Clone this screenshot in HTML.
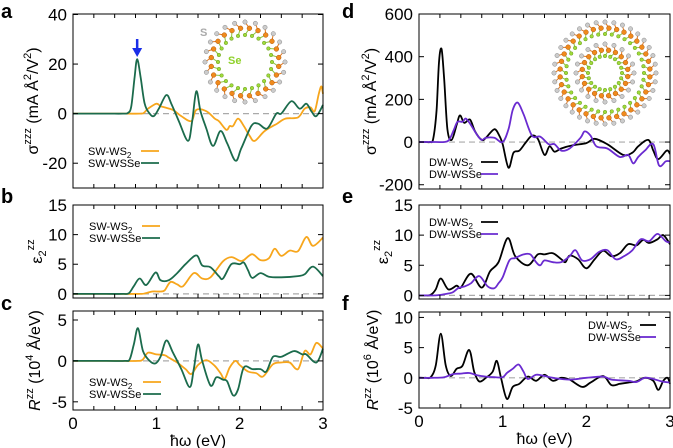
<!DOCTYPE html>
<html><head><meta charset="utf-8">
<style>
body{margin:0;background:#fff;}
svg{display:block;font-family:"Liberation Sans",sans-serif;}
</style></head>
<body>
<svg id="fig" width="673" height="448" viewBox="0 0 673 448" xmlns="http://www.w3.org/2000/svg"></svg>
<script>
// ---- data (x in eV, y in panel units) ----
const aOrangeX=[0,0.5,0.8,0.85,0.9,1.0,1.05,1.1,1.2,1.3,1.42,1.48,1.6,1.7,1.75,1.84,1.88,1.92,1.98,2.05,2.12,2.18,2.3,2.45,2.55,2.7,2.78,2.85,2.9,2.95,2.98,3];
const aOrangeY=[0,0,0,0.3,2,4,3,2.5,1.5,-1,-3,1.5,1,-2,-3,-6.5,-5,-5,-2,-5,-9,-11,-7,-4,-2,-1.5,2,2.5,1,8,11,8];
const aGreenX=[0,0.4,0.6,0.66,0.7,0.74,0.77,0.81,0.86,0.92,0.97,1.03,1.12,1.18,1.27,1.38,1.43,1.48,1.53,1.6,1.68,1.77,1.85,1.95,2.02,2.14,2.22,2.33,2.44,2.5,2.62,2.72,2.8,2.86,2.92,3];
const aGreenY=[0,0,0,0.3,3,15,22,15,4,0,-1,2,7.5,4,-3,-11,-3,9,1,-6,-13,-7,-12,-19,-14,-5,-4,-6,0,0,5,2,4,1,-1,3.5];
const bOrangeX=[0,0.5,0.8,0.87,0.95,1.05,1.1,1.17,1.25,1.32,1.45,1.55,1.65,1.8,1.9,2.0,2.05,2.15,2.25,2.35,2.42,2.5,2.6,2.7,2.8,2.88,3];
const bOrangeY=[0,0,0,0.1,0.4,0.4,0.6,2.0,1.6,1.3,3.5,2.6,2.8,5.5,6.2,5.6,5.7,6.7,5.7,6.0,7.6,6.4,7.3,7.2,9.6,8.1,9.5];
const bGreenX=[0,0.4,0.6,0.67,0.73,0.8,0.88,0.99,1.05,1.15,1.25,1.35,1.48,1.55,1.65,1.75,1.8,1.9,2.0,2.05,2.1,2.15,2.25,2.35,2.5,2.7,2.78,2.88,3];
const bGreenY=[0,0,0,0.1,1.3,2.6,1.5,3.6,2.3,2.3,3.5,5,6.5,4.8,4.5,3,2.6,5,5,5.3,4,2.7,3.5,2.9,2.8,3,3.3,4.6,3.0];
const cOrangeX=[0,0.5,0.78,0.84,0.9,1.0,1.1,1.15,1.25,1.35,1.42,1.5,1.6,1.7,1.77,1.82,1.88,1.95,2.0,2.1,2.2,2.28,2.4,2.5,2.6,2.7,2.78,2.85,2.92,3];
const cOrangeY=[0,0,0,0.2,1,0.8,0.7,0.4,-0.2,-1,-1.6,-0.5,0.1,-0.6,-1.5,-2.2,-0.8,0,-0.5,-1.3,-1.5,-1.9,-0.4,-0.2,-0.2,-1,1.2,0.8,2.2,1.5];
const cGreenX=[0,0.4,0.62,0.68,0.73,0.78,0.84,0.92,0.99,1.05,1.12,1.2,1.3,1.4,1.45,1.5,1.55,1.65,1.72,1.8,1.85,1.92,1.98,2.05,2.15,2.25,2.32,2.4,2.5,2.65,2.75,2.8,2.92,3];
const cGreenY=[0,0,0,0.2,2,4,1.2,0,-0.3,0.5,2.5,1,-1,-3.2,-1,2,0,-3,-2,-2.3,-2.5,-4.2,-3.5,-0.8,-1,-1,-1.3,0.5,0.5,1.2,0.8,0.8,-0.2,1.5];
const dBlackX=[0,0.08,0.13,0.17,0.21,0.24,0.27,0.3,0.34,0.39,0.45,0.49,0.54,0.61,0.67,0.75,0.8,0.9,0.96,1.0,1.07,1.13,1.2,1.28,1.35,1.42,1.5,1.56,1.62,1.7,1.84,2.0,2.1,2.25,2.44,2.55,2.62,2.74,2.8,2.86,2.96,3];
const dBlackY=[0,0,0,15,150,380,435,300,60,10,80,125,90,105,50,10,20,60,30,-10,-120,-50,-40,0,30,15,-60,-20,-45,-30,-15,-5,15,-10,-60,-50,-20,10,-40,-80,-40,-55];
const dPurpleX=[0,0.2,0.3,0.36,0.42,0.46,0.52,0.56,0.62,0.7,0.75,0.8,0.9,1.0,1.07,1.12,1.18,1.25,1.35,1.45,1.55,1.62,1.7,1.8,1.93,1.98,2.05,2.12,2.25,2.4,2.5,2.56,2.62,2.7,2.8,2.87,2.95,3];
const dPurpleY=[0,0,0,10,60,95,95,110,80,30,10,20,20,0,60,150,185,130,30,25,-10,-10,-40,-30,20,50,30,-20,-30,-70,-60,-100,-70,-40,-10,-110,-90,-90];
const eBlackX=[0,0.08,0.14,0.2,0.26,0.35,0.45,0.5,0.62,0.75,0.85,0.95,1.06,1.15,1.3,1.42,1.5,1.6,1.7,1.75,1.8,1.9,2.0,2.1,2.2,2.3,2.4,2.5,2.6,2.68,2.75,2.85,2.92,3];
const eBlackY=[0,0,0.1,1,2.8,1,1.6,1.3,3.6,1.3,4,5.5,9.5,6.5,5.0,6.8,6.8,7,6,5.5,6.6,6,4.5,6,7.4,6.5,7,8.5,8.3,9.2,8.7,9.3,10,8.5];
const ePurpleX=[0,0.1,0.2,0.3,0.4,0.47,0.55,0.62,0.72,0.82,0.9,0.95,1.0,1.08,1.15,1.25,1.33,1.4,1.45,1.5,1.6,1.7,1.8,1.87,1.95,2.05,2.15,2.25,2.35,2.45,2.55,2.65,2.75,2.85,2.95,3];
const ePurpleY=[0,0,0,0.2,0.5,1.2,1.5,2,3.2,1.5,1.2,2,3,5.8,6.2,6.8,6.8,5.5,5,5.8,5.5,5.5,6.5,7.5,5.8,6,7.2,7.5,6,6.5,7.5,9.3,9,10.2,9,8.8];
const fBlackX=[0,0.08,0.14,0.2,0.26,0.32,0.38,0.45,0.52,0.6,0.66,0.72,0.8,0.88,0.93,0.98,1.05,1.12,1.2,1.3,1.4,1.5,1.6,1.7,1.8,1.95,2.05,2.2,2.3,2.4,2.5,2.6,2.7,2.8,2.86,2.92,2.97,3];
const fBlackY=[0,0,0.1,2,7.3,2,0.3,1.5,2,4.6,1,-0.6,0,1,2.8,0,-3.5,-1.5,-1,0.2,-0.5,0.5,-0.5,0,-0.3,-1.5,-0.8,0.3,-1.2,-1,-0.8,-0.6,0,-0.5,-2,-0.5,0,-1];
const fPurpleX=[0,0.15,0.3,0.4,0.5,0.6,0.7,0.8,0.9,1.0,1.05,1.12,1.19,1.25,1.3,1.4,1.5,1.6,1.8,2.0,2.2,2.3,2.5,2.6,2.7,2.8,2.9,3];
const fPurpleY=[0,0,0.1,0.6,0.7,0.8,0.4,0.2,0.1,0.1,0.8,1.5,2.2,1,-0.2,0.5,0.3,0,-0.3,0,0.2,-0.3,-0.5,-0.7,0,-0.2,-0.6,-0.8];
const xTickLabels=["0","1","2","3"];
const aTicks=[40,20,0,-20], bTicks=[15,10,5,0], cTicks=[5,0,-5];
const dTicks=[600,400,200,0,-200], eTicks=[15,10,5,0], fTicks=[10,5,0,-5];

const NS="http://www.w3.org/2000/svg";
const svg=document.getElementById('fig');
function mk(tag,attrs,parent){const e=document.createElementNS(NS,tag);for(const k in attrs)e.setAttribute(k,attrs[k]);(parent||svg).appendChild(e);return e;}
function txt(s,x,y,size,anchor,parent){const t=mk('text',{x:x,y:y,'font-size':size,'text-anchor':anchor||'start',fill:'#000'},parent);t.textContent=s;return t;}

function panel(p){
  const g=mk('g',{});
  
  
  const X=v=>p.x0+(v-0)/3*(p.x1-p.x0);
  const Y=v=>p.yb+(v-p.ymin)/(p.ymax-p.ymin)*(p.yt-p.yb);
  const z=mk('line',{x1:p.x0,x2:p.x1,y1:Y(0),y2:Y(0),stroke:'#aaa','stroke-width':1.2,'stroke-dasharray':'6,4'},g);
  
  
  p.series.forEach(s=>{
    const pts=s.xs.map((v,i)=>[X(v),Y(s.ys[i])]);
    let d='M'+pts[0][0].toFixed(1)+','+pts[0][1].toFixed(1);
    for(let i=0;i<pts.length-1;i++){
      const p0=pts[Math.max(0,i-1)],p1=pts[i],p2=pts[i+1],p3=pts[Math.min(pts.length-1,i+2)];
      const c1=[p1[0]+(p2[0]-p0[0])/6,p1[1]+(p2[1]-p0[1])/6];
      const c2=[p2[0]-(p3[0]-p1[0])/6,p2[1]-(p3[1]-p1[1])/6];
      d+=' C'+c1[0].toFixed(1)+','+c1[1].toFixed(1)+' '+c2[0].toFixed(1)+','+c2[1].toFixed(1)+' '+p2[0].toFixed(1)+','+p2[1].toFixed(1);
    }
    const path=mk('path',{d:d,fill:'none',stroke:s.color,'stroke-width':1.8,'stroke-linejoin':'round'},g);
    
    
  });
  const fr=mk('rect',{x:p.x0,y:p.yt,width:p.x1-p.x0,height:p.yb-p.yt,fill:'none',stroke:'#000','stroke-width':1},g);
  
  
  for(let k=0;k<=12;k++){const xx=X(k*0.25);
    mk('line',{x1:xx,x2:xx,y1:p.yb,y2:p.yb-4,stroke:'#000'},g);
    mk('line',{x1:xx,x2:xx,y1:p.yt,y2:p.yt+4,stroke:'#000'},g);}
  if(p.xlabels){xTickLabels.forEach((l,i)=>{const t=txt(l,X(i),p.yb+19,17,'middle',g);
    
    });
    const xt=txt('ħω (eV)',(p.x0+p.x1)/2,p.yb+36,16,'middle',g);
    
    }
  p.ticks.forEach(v=>{const yy=Y(v);
    mk('line',{x1:p.x0,x2:p.x0+5,y1:yy,y2:yy,stroke:'#000'},g);
    mk('line',{x1:p.x1,x2:p.x1-5,y1:yy,y2:yy,stroke:'#000'},g);
    const t=txt(String(v),p.x0-6,yy+6,17,'end',g);
    
    });
  const yt=mk('text',{x:0,y:0,'font-size':16,'text-anchor':'middle',transform:'translate('+p.ytx+','+((p.yt+p.yb)/2)+') rotate(-90)'},g);
  yt.innerHTML=p.ytitle;
  
  
  p.series.forEach((s,i)=>{const ly=p.leg[1]+i*12;
    const t=txt('',p.leg[0],ly+4,11,'start',g);t.innerHTML=s.label;
    
    
    const l=mk('line',{x1:p.leg[2],x2:p.leg[3],y1:ly,y2:ly,stroke:s.color,'stroke-width':1.8},g);
    
    });
  const L=mk('text',{x:p.lx,y:p.ly,'font-size':20,'font-weight':'bold'},g);L.textContent=p.letter;
  
  
  return {X,Y};
}
const OR='#f7a61c',GR='#1b6b4c',BK='#000',PU='#6a2bd0';
const sub2='<tspan font-size="8" dy="3">2</tspan>';
const pa=panel({name:'panel-a',letter:'a',lx:1,ly:18,x0:73,x1:323,yt:14,yb:188,ymin:-30,ymax:40.2,ticks:aTicks,ytx:38,
  ytitle:'σ<tspan font-size="11" dy="-7">zzz</tspan><tspan dy="7"> (mA Å</tspan><tspan font-size="11" dy="-7">2</tspan><tspan dy="7">/V</tspan><tspan font-size="11" dy="-7">2</tspan><tspan dy="7">)</tspan>',
  leg:[88,151,141,159],series:[{name:'sw-ws2-line',label:'SW-WS'+sub2,color:OR,xs:aOrangeX,ys:aOrangeY},{name:'sw-wsse-line',label:'SW-WSSe',color:GR,xs:aGreenX,ys:aGreenY}]});
panel({name:'panel-b',letter:'b',lx:1,ly:203,x0:73,x1:323,yt:205,yb:298,ymin:-0.7,ymax:15,ticks:bTicks,ytx:42,
  ytitle:'ε<tspan font-size="11" dy="4">2</tspan><tspan font-size="11" dy="-12">zz</tspan>',
  leg:[89,226,142,160],series:[{name:'sw-ws2-line',label:'SW-WS'+sub2,color:OR,xs:bOrangeX,ys:bOrangeY},{name:'sw-wsse-line',label:'SW-WSSe',color:GR,xs:bGreenX,ys:bGreenY}]});
panel({name:'panel-c',letter:'c',lx:1,ly:310,x0:73,x1:323,yt:311,yb:410,ymin:-6,ymax:6.1,ticks:cTicks,xlabels:true,ytx:40,
  ytitle:'<tspan font-style="italic">R</tspan><tspan font-size="11" dy="-7">zz</tspan><tspan dy="7"> (10</tspan><tspan font-size="11" dy="-7">4</tspan><tspan dy="7"> Å/eV)</tspan>',
  leg:[89,382,143,161],series:[{name:'sw-ws2-line',label:'SW-WS'+sub2,color:OR,xs:cOrangeX,ys:cOrangeY},{name:'sw-wsse-line',label:'SW-WSSe',color:GR,xs:cGreenX,ys:cGreenY}]});
panel({name:'panel-d',letter:'d',lx:342,ly:18,x0:419,x1:670,yt:14,yb:189,ymin:-220,ymax:600,ticks:dTicks,ytx:376,
  ytitle:'σ<tspan font-size="11" dy="-7">zzz</tspan><tspan dy="7"> (mA Å</tspan><tspan font-size="11" dy="-7">2</tspan><tspan dy="7">/V</tspan><tspan font-size="11" dy="-7">2</tspan><tspan dy="7">)</tspan>',
  leg:[429,162,481,498],series:[{name:'dw-ws2-line',label:'DW-WS'+sub2,color:BK,xs:dBlackX,ys:dBlackY},{name:'dw-wsse-line',label:'DW-WSSe',color:PU,xs:dPurpleX,ys:dPurpleY}]});
panel({name:'panel-e',letter:'e',lx:342,ly:203,x0:419,x1:670,yt:205,yb:299,ymin:-0.6,ymax:15,ticks:eTicks,ytx:388,
  ytitle:'ε<tspan font-size="11" dy="4">2</tspan><tspan font-size="11" dy="-12">zz</tspan>',
  leg:[429,222,481,498],series:[{name:'dw-ws2-line',label:'DW-WS'+sub2,color:BK,xs:eBlackX,ys:eBlackY},{name:'dw-wsse-line',label:'DW-WSSe',color:PU,xs:ePurpleX,ys:ePurpleY}]});
panel({name:'panel-f',letter:'f',lx:342,ly:310,x0:419,x1:670,yt:312,yb:408,ymin:-5,ymax:10.9,ticks:fTicks,xlabels:true,ytx:378,
  ytitle:'<tspan font-style="italic">R</tspan><tspan font-size="11" dy="-7">zz</tspan><tspan dy="7"> (10</tspan><tspan font-size="11" dy="-7">6</tspan><tspan dy="7"> Å/eV)</tspan>',
  leg:[588,325,640,656],series:[{name:'dw-ws2-line',label:'DW-WS'+sub2,color:BK,xs:fBlackX,ys:fBlackY},{name:'dw-wsse-line',label:'DW-WSSe',color:PU,xs:fPurpleX,ys:fPurpleY}]});

const ar=mk('g',{});


mk('line',{x1:pa.X(0.77),x2:pa.X(0.77),y1:39,y2:50,stroke:'#1a2ee8','stroke-width':2.5},ar);
mk('polygon',{points:(pa.X(0.77)-5)+',48 '+(pa.X(0.77)+5)+',48 '+pa.X(0.77)+',57',fill:'#1a2ee8'},ar);

function tube(cx,cy,rs,name){
  const g=mk('g',{});
  
  
  rs.forEach(r=>{
    const n=r.n;
    for(let i=0;i<n;i++){const a=2*Math.PI*i/n+(r.off||0);
      mk('line',{x1:cx+r.o*Math.cos(a),y1:cy+r.o*Math.sin(a),x2:cx+r.m*Math.cos(a+Math.PI/n),y2:cy+r.m*Math.sin(a+Math.PI/n),stroke:'#e07820','stroke-width':1},g);
      mk('line',{x1:cx+r.i*Math.cos(a),y1:cy+r.i*Math.sin(a),x2:cx+r.m*Math.cos(a+Math.PI/n),y2:cy+r.m*Math.sin(a+Math.PI/n),stroke:'#8fc540','stroke-width':1},g);}
    for(let i=0;i<n;i++){const a=2*Math.PI*i/n+(r.off||0);
      mk('circle',{cx:cx+r.o*Math.cos(a),cy:cy+r.o*Math.sin(a),r:2.2,fill:'#ccc',stroke:'#888','stroke-width':0.5},g);
      mk('circle',{cx:cx+r.i*Math.cos(a),cy:cy+r.i*Math.sin(a),r:1.8,fill:'#9fdb3a',stroke:'#6a9a20','stroke-width':0.5},g);
      mk('circle',{cx:cx+r.m*Math.cos(a+Math.PI/n),cy:cy+r.m*Math.sin(a+Math.PI/n),r:2.4,fill:'#f08a1c',stroke:'#b05a10','stroke-width':0.5},g);}
  });
  return g;
}
tube(245,62,[{n:24,o:40,m:34,i:27}],'inset-sw-tube');
const s1=txt('S',200,36,11,'start');s1.setAttribute('fill','#aaa');s1.setAttribute('font-weight','bold');


const s2=txt('Se',228,64,11,'start');s2.setAttribute('fill','#8fd12a');s2.setAttribute('font-weight','bold');


tube(605,73,[{n:36,o:51,m:45,i:39},{n:20,o:29,m:23,i:17}],'inset-dw-tube');
</script>
</body></html>
